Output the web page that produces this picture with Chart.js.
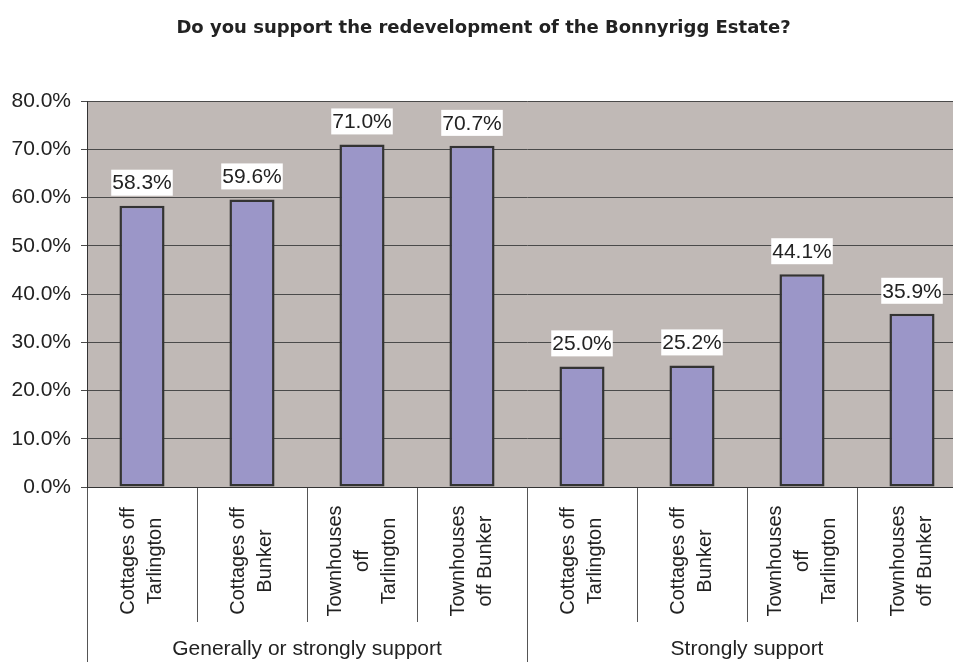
<!DOCTYPE html>
<html>
<head>
<meta charset="utf-8">
<script src="https://cdn.jsdelivr.net/npm/chart.js@4/dist/chart.umd.min.js"></script>
<style>
  html, body { margin: 0; padding: 0; overflow: hidden; background: #ffffff; }
  #wrap { position: absolute; left: 0; top: 0; width: 968px; height: 668px; }
</style>
</head>
<body>
<div id="wrap"><canvas id="c" width="968" height="668"></canvas></div>
<script>
// ---- data ----
const chartTitle = 'Do you support the redevelopment of the Bonnyrigg Estate?';
const categories = [
  ['Cottages off', 'Tarlington'],
  ['Cottages off', 'Bunker'],
  ['Townhouses', 'off', 'Tarlington'],
  ['Townhouses', 'off Bunker'],
  ['Cottages off', 'Tarlington'],
  ['Cottages off', 'Bunker'],
  ['Townhouses', 'off', 'Tarlington'],
  ['Townhouses', 'off Bunker']
];
const groups = ['Generally or strongly support', 'Strongly support'];
const supportValues = [58.3, 59.6, 71.0, 70.7, 25.0, 25.2, 44.1, 35.9];
const yMin = 0, yMax = 80, yStep = 10;

// ---- styles ----
const TEXT = '#222222';
const FONT = "'Liberation Sans', Arial, sans-serif";

const plotBackground = {
  id: 'plotBackground',
  beforeDraw(chart) {
    const a = chart.chartArea, ctx = chart.ctx;
    ctx.save();
    ctx.fillStyle = '#c0b9b6';
    ctx.fillRect(a.left, a.top, a.right - a.left, a.bottom - a.top);
    ctx.restore();
  }
};

const valueLabels = {
  id: 'valueLabels',
  afterDatasetsDraw(chart) {
    const ctx = chart.ctx;
    const meta = chart.getDatasetMeta(0);
    ctx.save();
    ctx.font = '21px ' + FONT;
    ctx.textAlign = 'center';
    ctx.textBaseline = 'middle';
    meta.data.forEach((bar, i) => {
      const v = chart.data.datasets[0].data[i];
      const txt = v.toFixed(1) + '%';
      const w = ctx.measureText(txt).width + 2;
      const h = 26;
      const cy = bar.y - 23;
      ctx.fillStyle = '#ffffff';
      ctx.fillRect(bar.x - w / 2, cy - h / 2, w, h);
      ctx.fillStyle = TEXT;
      ctx.fillText(txt, bar.x, cy + 1);
    });
    ctx.restore();
  }
};

const categoryLabels = {
  id: 'categoryLabels',
  afterDraw(chart) {
    const scale = chart.scales.x;
    const ctx = chart.ctx;
    const lh = 27;
    ctx.save();
    ctx.font = '20px ' + FONT;
    ctx.fillStyle = TEXT;
    ctx.textAlign = 'center';
    ctx.textBaseline = 'middle';
    chart.data.labels.forEach((lines, i) => {
      const x = scale.getPixelForTick(i);
      const yc = scale.top + 74;
      ctx.save();
      ctx.translate(x, yc);
      ctx.rotate(-Math.PI / 2);
      lines.forEach((ln, j) => {
        ctx.fillText(ln, 0, (j - (lines.length - 1) / 2) * lh);
      });
      ctx.restore();
    });
    ctx.restore();
  }
};

new Chart(document.getElementById('c'), {
  type: 'bar',
  data: {
    labels: categories,
    datasets: [{
      data: supportValues,
      backgroundColor: '#9b96c8',
      borderColor: '#333333',
      borderWidth: 2.5,
      borderSkipped: false,
      barPercentage: 0.41,
      categoryPercentage: 1.0,
      xAxisID: 'x',
      yAxisID: 'y'
    }]
  },
  options: {
    responsive: false,
    devicePixelRatio: 1,
    animation: false,
    layout: { padding: { left: 0, right: 1, top: 0, bottom: 0 } },
    plugins: {
      legend: { display: false },
      tooltip: { enabled: false },
      title: {
        display: true,
        text: chartTitle,
        color: TEXT,
        font: { family: "'DejaVu Sans', sans-serif", size: 18, weight: 'bold', lineHeight: 1.2 },
        padding: { top: 17.2, bottom: 62.2 }
      }
    },
    scales: {
      y: {
        min: yMin,
        max: yMax,
        afterFit(s) { s.width = 87; },
        ticks: {
          stepSize: yStep,
          padding: 10,
          color: TEXT,
          font: { family: FONT, size: 21 },
          callback: (v) => Number(v).toFixed(1) + '%'
        },
        grid: { color: '#4a4a4a', lineWidth: 1, tickLength: 6, drawTicks: true },
        border: { display: true, color: '#333333', width: 1 }
      },
      x: {
        type: 'category',
        position: 'bottom',
        offset: true,
        afterFit(s) { s.height = 135; },
        ticks: { display: false },
        grid: { offset: true, drawOnChartArea: false, drawTicks: true, tickLength: 135, color: '#555555', lineWidth: 1 },
        border: { display: true, color: '#333333', width: 1 }
      },
      x2: {
        type: 'category',
        position: 'bottom',
        labels: groups,
        offset: true,
        afterFit(s) { s.height = 46; },
        ticks: {
          autoSkip: false,
          maxRotation: 0,
          minRotation: 0,
          padding: -45,
          color: TEXT,
          font: { family: FONT, size: 21 }
        },
        grid: { offset: true, drawOnChartArea: false, drawTicks: true, tickLength: 60, color: '#555555', lineWidth: 1 },
        border: { display: false }
      }
    }
  },
  plugins: [plotBackground, valueLabels, categoryLabels]
});
</script>
</body>
</html>
